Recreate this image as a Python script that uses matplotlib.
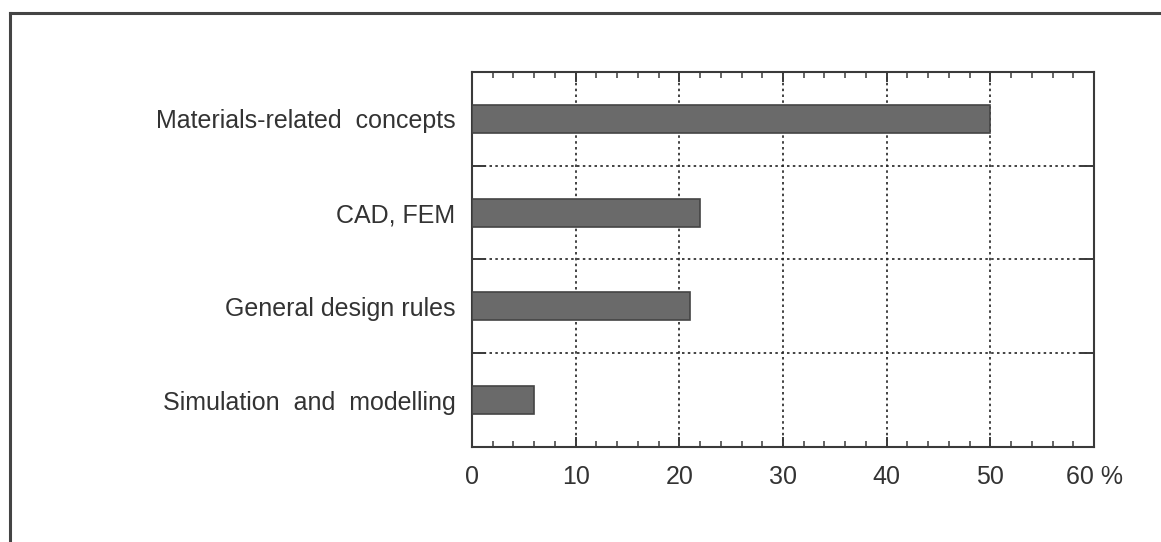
import matplotlib
matplotlib.use("Agg")
import matplotlib.pyplot as plt
from matplotlib.lines import Line2D

# data (top to bottom)
categories = ["Materials-related  concepts", "CAD, FEM",
              "General design rules", "Simulation  and  modelling"]
values = [50, 22, 21, 6]
xticks = [0, 10, 20, 30, 40, 50, 60]
xtick_labels = ["0", "10", "20", "30", "40", "50", "60 %"]

TEXT = "#333333"
BAR = "#6a6a6a"
LINE = "#3a3a3a"

plt.rcParams["font.family"] = ["Liberation Sans", "DejaVu Sans"]

fig = plt.figure(figsize=(11.61, 5.42), dpi=100)
ax = fig.add_axes([0.4065, 0.1753, 0.5358, 0.6919])

n = len(categories)
ypos = list(range(n))[::-1]
ax.barh(ypos, values, height=0.3, color=BAR, edgecolor="#444444", linewidth=1.2, zorder=3)

ax.set_xlim(0, 60)
ax.set_ylim(-0.5, n - 0.5)

# y: labels at centres, separators as minor ticks with dotted grid
ax.set_yticks(ypos)
ax.set_yticklabels(categories, fontsize=18, color=TEXT)
ax.set_yticks([i + 0.5 for i in range(n - 1)], minor=True)
ax.tick_params(axis="y", which="major", length=0, pad=12)
ax.tick_params(axis="y", which="minor", direction="in", length=10, width=1.4,
               color=LINE, left=True, right=True)
ax.grid(True, axis="y", which="minor", linestyle=(0, (1.5, 2)), color="#222222",
        linewidth=1.2, zorder=1)

# x: majors every 10, minors every 2
ax.set_xticks(xticks)
ax.set_xticklabels(xtick_labels, fontsize=18, color=TEXT)
ax.set_xticks(range(0, 61, 2), minor=True)
ax.tick_params(axis="x", which="major", direction="in", length=7, width=1.4,
               color=LINE, top=True, bottom=True, pad=13)
ax.tick_params(axis="x", which="minor", direction="in", length=4, width=1.1,
               color=LINE, top=True, bottom=True)
ax.grid(True, axis="x", which="major", linestyle=(0, (1.5, 2)), color="#222222",
        linewidth=1.2, zorder=1)
ax.set_axisbelow(True)

for s in ax.spines.values():
    s.set_color(LINE)
    s.set_linewidth(1.5)

# outer frame (top and left edges visible)
x0, y0 = 10 / 1161, 1 - 13 / 542
fig.add_artist(Line2D([x0, 1.01], [y0, y0], color="#444444", lw=2.2, transform=fig.transFigure))
fig.add_artist(Line2D([x0, x0], [y0, -0.01], color="#444444", lw=2.2, transform=fig.transFigure))

fig.savefig("out.png", dpi=100, facecolor="white")
